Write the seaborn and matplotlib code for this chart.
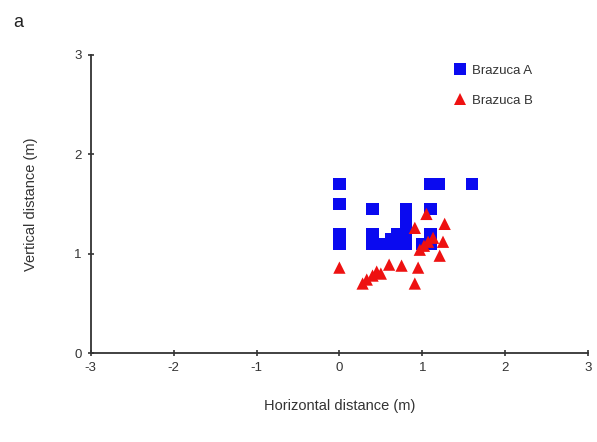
import matplotlib
matplotlib.use("Agg")
import matplotlib.pyplot as plt
import seaborn as sns
import pandas as pd

# Landing positions of the two balls (metres)
a_x = [0.0, 0.0, 0.0, 0.0, 0.4, 0.4, 0.4, 0.55, 0.62, 0.7, 0.7,
       0.8, 0.8, 0.8, 0.8, 0.8, 1.1, 1.2, 1.6, 1.1, 1.1, 1.1, 1.0]
a_y = [1.7, 1.5, 1.2, 1.1, 1.45, 1.2, 1.1, 1.1, 1.15, 1.1, 1.2,
       1.45, 1.35, 1.25, 1.15, 1.1, 1.7, 1.7, 1.7, 1.45, 1.2, 1.1, 1.1]

b_x = [0.0, 0.28, 0.33, 0.40, 0.45, 0.50, 0.60, 0.75, 0.91, 0.95,
       0.97, 0.91, 1.05, 1.27, 1.13, 1.07, 1.25, 1.21, 1.02]
b_y = [0.86, 0.70, 0.74, 0.78, 0.82, 0.80, 0.89, 0.88, 0.70, 0.86,
       1.04, 1.26, 1.40, 1.30, 1.16, 1.12, 1.12, 0.98, 1.08]

ball_names = ["Brazuca A", "Brazuca B"]
x_ticks = [-3, -2, -1, 0, 1, 2, 3]
y_ticks = [0, 1, 2, 3]

df = pd.DataFrame({
    "x": a_x + b_x,
    "y": a_y + b_y,
    "ball": [ball_names[0]] * len(a_x) + [ball_names[1]] * len(b_x),
})

sns.set_style("white")
plt.rcParams["font.family"] = ["Liberation Sans", "DejaVu Sans"]

fig = plt.figure(figsize=(5.97, 4.42), dpi=100)
ax = fig.add_axes([0.152, 0.201, 0.833, 0.675])

sns.scatterplot(
    data=df, x="x", y="y", hue="ball", style="ball",
    palette={"Brazuca A": "#0a0af0", "Brazuca B": "#ee1111"},
    markers={"Brazuca A": "s", "Brazuca B": "^"},
    s=78, linewidth=0, ax=ax,
)

ax.set_xlim(-3, 3)
ax.set_ylim(0, 3)
ax.set_xticks(x_ticks)
ax.set_yticks(y_ticks)
ax.set_xticklabels([str(t) for t in x_ticks], fontsize=9.5, color="#333333")
ax.set_yticklabels([str(t) for t in y_ticks], fontsize=9.5, color="#333333")
ax.tick_params(axis="both", direction="inout", length=5, width=1.2,
               color="#333333", pad=4, bottom=True, left=True)

for side in ["top", "right"]:
    ax.spines[side].set_visible(False)
for side in ["left", "bottom"]:
    ax.spines[side].set_color("#333333")
    ax.spines[side].set_linewidth(1.3)

ax.set_xlabel("Horizontal distance (m)", fontsize=10.5, color="#333333", labelpad=18)
ax.set_ylabel("Vertical distance (m)", fontsize=10.5, color="#333333", labelpad=26)

leg = ax.legend(loc="upper left", bbox_to_anchor=(0.705, 0.985), frameon=False,
                fontsize=9.5, handletextpad=-0.1, borderaxespad=0.0,
                labelspacing=1.35, markerscale=0.9)
for t in leg.get_texts():
    t.set_color("#333333")

fig.text(0.022, 0.94, "a", fontsize=13, color="#222222")

fig.savefig("out.png", dpi=100)
